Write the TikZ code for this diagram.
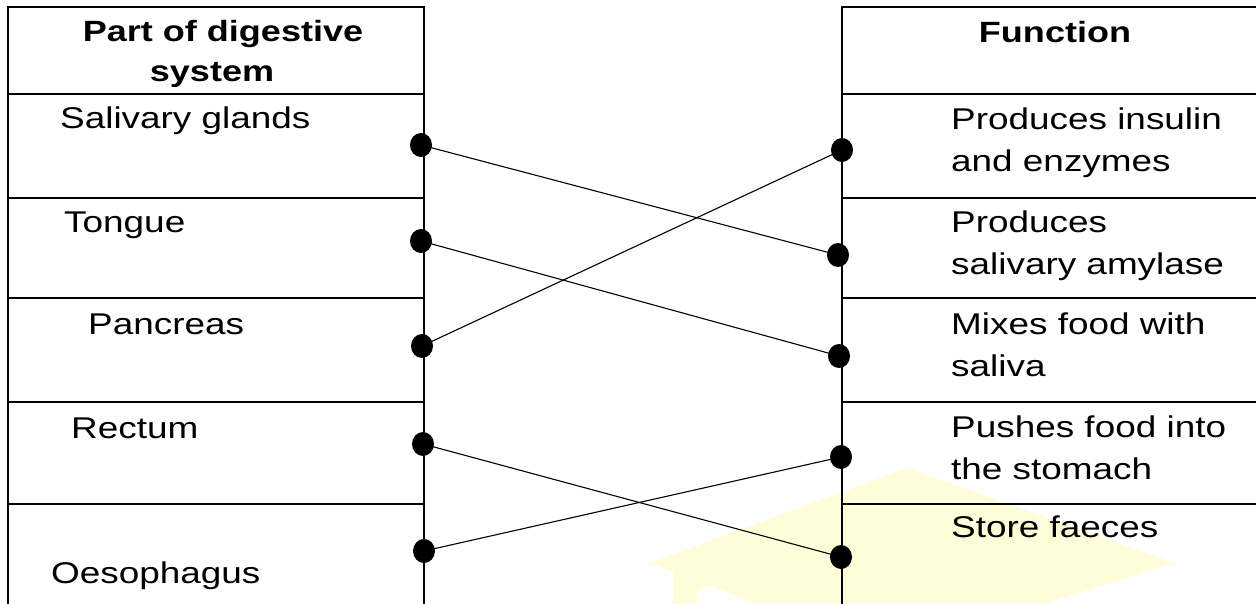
\documentclass[tikz,border=0pt]{standalone}
\usepackage{fontspec}
\setmainfont{Liberation Sans}[FakeStretch=1.23]
\usetikzlibrary{shapes.geometric}
\definecolor{wmark}{HTML}{FFFDD9}
\newcommand{\twoln}[2]{\vtop{\baselineskip=42pt\hbox{#1}\hbox{#2}}}
\tikzset{
  grid/.style={line width=2.2pt},
  link/.style={line width=1.1pt},
  dot/.style={ellipse, fill=black, draw=none, inner sep=0pt, minimum width=22pt, minimum height=24pt},
  cell/.style={anchor=base west, inner sep=0pt, font=\fontsize{30}{36}\selectfont},
  head/.style={anchor=base, inner sep=0pt, font=\fontsize{29.3}{35}\selectfont\bfseries}
}
\begin{document}
\begin{tikzpicture}[x=1pt,y=-1pt]
\useasboundingbox (0,0) rectangle (1256,604);
% faint watermark (mortarboard)
\fill[wmark] (907,468) -- (1174,563) -- (887,653) -- (650,563) -- cycle;
\fill[wmark] (673,570) -- (673,604) -- (697,604) -- (697,592) -- (703,588) -- (712,586) -- cycle;
% left table
\draw[grid] (8,604) -- (8,7) -- (424,7) -- (424,604);
\foreach \yy in {94,198,298,402,504} \draw[grid] (8,\yy) -- (424,\yy);
% right table
\draw[grid] (1256,7) -- (842,7) -- (842,604);
\foreach \yy in {94,198,298,402,504} \draw[grid] (842,\yy) -- (1256,\yy);
% headers
\node[head] (hl) at (223,42) {\vtop{\baselineskip=40pt\halign{\hfil#\hfil\cr Part of digestive\cr \hskip-22pt system\cr}}};
\node[head] (hr) at (1055,43) {Function};
% left texts
\node[cell] (t1) at (60,129) {Salivary glands};
\node[cell] (t2) at (64,233) {Tongue};
\node[cell] (t3) at (88,334) {Pancreas};
\node[cell] (t4) at (71,438) {Rectum};
\node[cell] (t5) at (51,583) {Oesophagus};
% right texts
\node[cell] (f1) at (951,130) {\twoln{Produces insulin}{and enzymes}};
\node[cell] (f2) at (951,233) {\twoln{Produces}{salivary amylase}};
\node[cell] (f3) at (951,334) {\twoln{Mixes food with}{saliva}};
\node[cell] (f4) at (951,437) {\twoln{Pushes food into}{the stomach}};
\node[cell] (f5) at (951,537) {Store faeces};
% dots
\node[dot] (l1) at (421,145) {};
\node[dot] (l2) at (421,241) {};
\node[dot] (l3) at (422,346) {};
\node[dot] (l4) at (423,444) {};
\node[dot] (l5) at (424,551) {};
\node[dot] (r1) at (842,150) {};
\node[dot] (r2) at (838,255) {};
\node[dot] (r3) at (839,356) {};
\node[dot] (r4) at (841,457) {};
\node[dot] (r5) at (841,557) {};
% connectors
\draw[link] (l1.center) -- (r2.center);
\draw[link] (l2.center) -- (r3.center);
\draw[link] (l3.center) -- (r1.center);
\draw[link] (l4.center) -- (r5.center);
\draw[link] (l5.center) -- (r4.center);
\end{tikzpicture}
\end{document}
